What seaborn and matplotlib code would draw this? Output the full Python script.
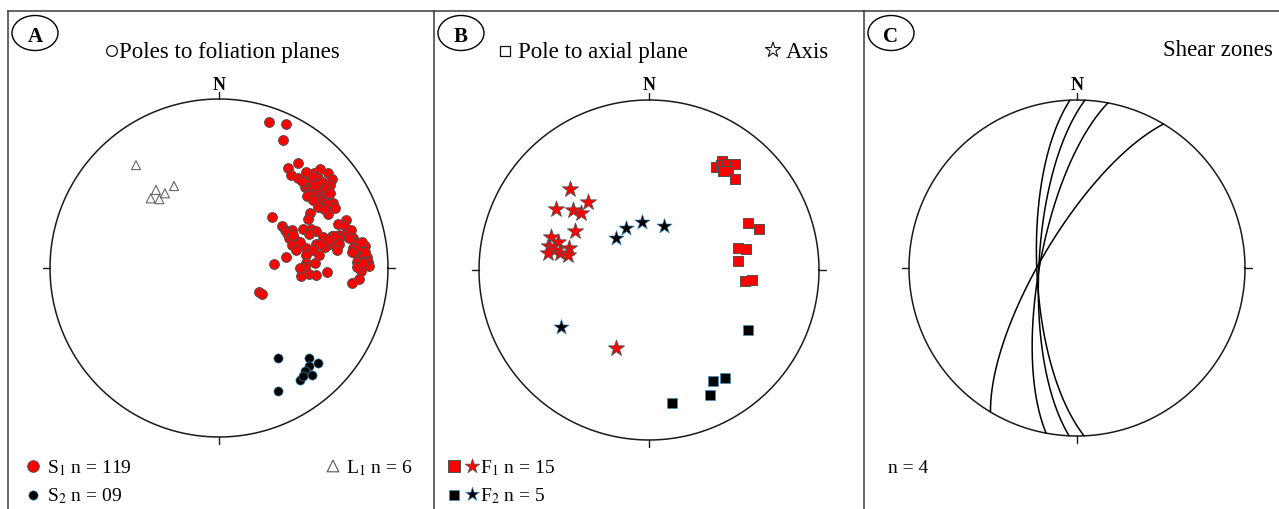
import numpy as np
import matplotlib
matplotlib.use("Agg")
import matplotlib.pyplot as plt
from matplotlib.patches import Ellipse
import seaborn as sns

sns.set_theme(style="white")
plt.rcParams["font.family"] = ["Liberation Serif", "DejaVu Serif"]
plt.rcParams["mathtext.fontset"] = "stix"
plt.rcParams["text.color"] = "black"

# ---------------- Panel A: poles on the equal-area net (east, north; unit radius)
s1_east = [0.298, 0.396, 0.380, 0.466, 0.410, 0.424, 0.466, 0.562, 0.598, 0.645,
           0.670, 0.657, 0.543, 0.549, 0.588, 0.534, 0.509, 0.533, 0.558, 0.593,
           0.617, 0.578, 0.549, 0.608, 0.637, 0.647, 0.598, 0.578, 0.657, 0.673,
           0.637, 0.686, 0.647, 0.538, 0.525, 0.315, 0.371, 0.391, 0.430, 0.401,
           0.416, 0.463, 0.434, 0.495, 0.544, 0.574, 0.534, 0.617, 0.667, 0.712,
           0.751, 0.702, 0.759, 0.779, 0.795, 0.805, 0.824, 0.866, 0.844, 0.710,
           0.710, 0.657, 0.627, 0.696, 0.572, 0.513, 0.556, 0.517, 0.795, 0.815,
           0.834, 0.854, 0.874, 0.883, 0.889, 0.834, 0.815, 0.395, 0.324, 0.515,
           0.566, 0.511, 0.534, 0.574, 0.485, 0.637, 0.838, 0.830, 0.787, 0.235,
           0.253, 0.568, 0.609, 0.521, 0.586, 0.621, 0.556, 0.633, 0.657, 0.550,
           0.491, 0.515, 0.740, 0.769, 0.817, 0.846, 0.864, 0.787, 0.817, 0.852,
           0.680, 0.645, 0.598, 0.479, 0.456, 0.479, 0.438, 0.592]
s1_north = [0.866, 0.852, 0.757, 0.623, 0.590, 0.550, 0.534, 0.564, 0.584, 0.564,
            0.528, 0.491, 0.531, 0.511, 0.531, 0.501, 0.478, 0.462, 0.466, 0.478,
            0.457, 0.442, 0.432, 0.422, 0.432, 0.402, 0.402, 0.392, 0.383, 0.383,
            0.379, 0.353, 0.318, 0.324, 0.288, 0.300, 0.249, 0.225, 0.225, 0.205,
            0.179, 0.162, 0.136, 0.229, 0.229, 0.221, 0.199, 0.182, 0.189, 0.197,
            0.284, 0.260, 0.211, 0.225, 0.178, 0.156, 0.126, 0.130, 0.107, 0.170,
            0.140, 0.142, 0.126, 0.107, 0.142, 0.120, 0.107, 0.077, 0.117, 0.077,
            0.063, 0.071, 0.067, 0.037, 0.014, 0.028, 0.037, 0.063, 0.024, 0.028,
            0.031, 0.004, -0.037, -0.041, -0.047, -0.025, -0.018, -0.065, -0.091, -0.140,
            -0.154, 0.491, 0.509, 0.426, 0.361, 0.349, 0.402, 0.473, 0.444, 0.544,
            0.515, 0.568, 0.254, 0.178, 0.118, 0.154, 0.095, 0.095, 0.006, 0.030,
            0.189, 0.166, 0.142, 0.154, 0.107, 0.000, 0.195, 0.077]
s2_east = [0.347, 0.533, 0.588, 0.534, 0.509, 0.549, 0.479, 0.347, 0.497]
s2_north = [-0.531, -0.531, -0.560, -0.578, -0.608, -0.633, -0.663, -0.726, -0.639]
l1_east = [-0.491, -0.373, -0.320, -0.266, -0.404, -0.353]
l1_north = [0.609, 0.462, 0.442, 0.485, 0.412, 0.407]

# ---------------- Panel B: fold axes (stars) and poles to axial planes (squares)
f1_axis_east = [-0.465, -0.357, -0.547, -0.449, -0.402, -0.435, -0.578, -0.534,
                -0.586, -0.559, -0.592, -0.524, -0.469, -0.475, -0.194]
f1_axis_north = [0.475, 0.402, 0.357, 0.353, 0.337, 0.231, 0.196, 0.166,
                 0.141, 0.118, 0.102, 0.098, 0.128, 0.088, -0.459]
f1_pole_east = [0.394, 0.429, 0.422, 0.461, 0.508, 0.434, 0.465, 0.508,
                0.584, 0.645, 0.525, 0.569, 0.524, 0.565, 0.606]
f1_pole_north = [0.608, 0.643, 0.618, 0.624, 0.624, 0.584, 0.584, 0.534,
                 0.278, 0.239, 0.131, 0.126, 0.053, -0.065, -0.059]
f2_axis_east = [-0.194, -0.137, -0.039, 0.088, -0.518]
f2_axis_north = [0.186, 0.245, 0.281, 0.259, -0.335]
f2_pole_east = [0.584, 0.447, 0.375, 0.359, 0.134]
f2_pole_north = [-0.353, -0.634, -0.653, -0.735, -0.784]

# ---------------- Panel C: shear zone planes (strike, right-hand rule / dip)
shear_strike = [211.0, 190.6, 182.7, 177.6]
shear_dip = [73.0, 72.0, 71.5, 70.5]

# ---------------- Texts
panel_letters = ["A", "B", "C"]
title_a = "Poles to foliation planes"
title_b1 = "Pole to axial plane"
title_b2 = "Axis"
title_c = "Shear zones"
label_s1 = "S$_1$ n = 119"
label_s2 = "S$_2$ n = 09"
label_l1 = "L$_1$ n = 6"
label_f1 = "F$_1$ n = 15"
label_f2 = "F$_2$ n = 5"
label_c = "n = 4"

RED = "#ff0000"
RED_EDGE = "#505050"
BLACK_EDGE = "#3a8fc4"

W, H = 1279, 509
fig = plt.figure(figsize=(W / 100, H / 100), dpi=100)

# net geometry of each panel, in figure pixels
geom = [
    dict(cx=219, cy=268, R=169, x0=8, x1=434),
    dict(cx=649, cy=270, R=170, x0=434, x1=864),
    dict(cx=1077, cy=268, R=168, x0=864, x1=1279),
]
TOP = 11

axes = []
for g in geom:
    ax = fig.add_axes([g["x0"] / W, 0, (g["x1"] - g["x0"]) / W, 1 - TOP / H])
    ax.set_xlim((g["x0"] - g["cx"]) / g["R"], (g["x1"] - g["cx"]) / g["R"])
    ax.set_ylim((g["cy"] - H) / g["R"], (g["cy"] - TOP) / g["R"])
    ax.set_xticks([])
    ax.set_yticks([])
    for side in ("right", "bottom"):
        ax.spines[side].set_visible(False)
    for side in ("left", "top"):
        ax.spines[side].set_visible(True)
        ax.spines[side].set_color("#3a3a3a")
        ax.spines[side].set_linewidth(1.1)
    ax.set_facecolor("white")
    axes.append(ax)


def to_data(g, px, py):
    return (px - g["cx"]) / g["R"], (g["cy"] - py) / g["R"]


def draw_net(ax, g):
    t = np.linspace(0, 2 * np.pi, 721)
    ax.plot(np.cos(t), np.sin(t), color="#1a1a1a", lw=1.1, zorder=2)
    tick = 0.042
    for ang in (0, 90, 180, 270):
        a = np.radians(ang)
        ax.plot([np.sin(a), (1 + tick) * np.sin(a)], [np.cos(a), (1 + tick) * np.cos(a)],
                color="#1a1a1a", lw=1.0, zorder=2)
    x, y = to_data(g, g["cx"], 86)
    ax.text(x, y, "N", ha="center", va="center", fontsize=13, fontweight="bold")


def panel_badge(ax, g, letter, px):
    x, y = to_data(g, px, 33)
    ax.add_patch(Ellipse((x, y), 46 / g["R"], 35 / g["R"], fill=False,
                         edgecolor="black", lw=1.0, clip_on=False))
    x, y = to_data(g, px, 37)
    ax.text(x, y, letter, ha="center", va="center", fontsize=15, fontweight="bold")


def key(ax, g, px, py, marker, s, face, edge, lw=0.7):
    x, y = to_data(g, px, py)
    sns.scatterplot(x=[x], y=[y], ax=ax, marker=marker, s=s, color=face,
                    edgecolor=edge, linewidth=lw, legend=False, clip_on=False, zorder=5)


def great_circle(strike, dip, n=241):
    s = np.radians(strike)
    d = np.radians(dip)
    dd = s + np.pi / 2
    a = np.radians(np.linspace(0, 180, n))
    sv = np.array([np.sin(s), np.cos(s), 0.0])
    dv = np.array([np.sin(dd) * np.cos(d), np.cos(dd) * np.cos(d), np.sin(d)])
    v = np.outer(np.cos(a), sv) + np.outer(np.sin(a), dv)
    plunge = np.arcsin(np.clip(v[:, 2], -1, 1))
    trend = np.arctan2(v[:, 0], v[:, 1])
    r = np.sqrt(2) * np.sin((np.pi / 2 - plunge) / 2)
    return r * np.sin(trend), r * np.cos(trend)


TITLE_FS = 16.5
LEG_FS = 14

# ---------------- Panel A
ax, g = axes[0], geom[0]
draw_net(ax, g)
panel_badge(ax, g, panel_letters[0], 35)
key(ax, g, 112, 51, "o", 60, "none", "#111111", 0.9)
x, y = to_data(g, 119, 58)
ax.text(x, y, title_a, ha="left", va="baseline", fontsize=TITLE_FS)
sns.scatterplot(x=l1_east, y=l1_north, ax=ax, marker="^", s=42, color="none",
                edgecolor="#666666", linewidth=0.8, legend=False, zorder=3)
sns.scatterplot(x=s1_east, y=s1_north, ax=ax, marker="o", s=50, color=RED,
                edgecolor=RED_EDGE, linewidth=0.7, legend=False, zorder=3)
sns.scatterplot(x=s2_east, y=s2_north, ax=ax, marker="o", s=44, color="black",
                edgecolor=BLACK_EDGE, linewidth=0.45, legend=False, zorder=3)
key(ax, g, 33, 466, "o", 70, RED, RED_EDGE)
key(ax, g, 33, 495, "o", 45, "black", BLACK_EDGE, 0.45)
key(ax, g, 333, 466, "^", 70, "none", "#555555", 0.8)
x, y = to_data(g, 47, 473)
ax.text(x, y, label_s1, ha="left", va="baseline", fontsize=LEG_FS)
x, y = to_data(g, 47, 501)
ax.text(x, y, label_s2, ha="left", va="baseline", fontsize=LEG_FS)
x, y = to_data(g, 346, 473)
ax.text(x, y, label_l1, ha="left", va="baseline", fontsize=LEG_FS)

# ---------------- Panel B
ax, g = axes[1], geom[1]
draw_net(ax, g)
panel_badge(ax, g, panel_letters[1], 461)
key(ax, g, 505, 51, "s", 60, "none", "#111111", 0.9)
x, y = to_data(g, 518, 58)
ax.text(x, y, title_b1, ha="left", va="baseline", fontsize=TITLE_FS)
key(ax, g, 773, 50, "*", 130, "none", "#111111", 0.8)
x, y = to_data(g, 786, 58)
ax.text(x, y, title_b2, ha="left", va="baseline", fontsize=TITLE_FS)
sns.scatterplot(x=f1_pole_east, y=f1_pole_north, ax=ax, marker="s", s=48, color=RED,
                edgecolor=RED_EDGE, linewidth=0.7, legend=False, zorder=3)
sns.scatterplot(x=f1_axis_east, y=f1_axis_north, ax=ax, marker="*", s=150, color=RED,
                edgecolor=RED_EDGE, linewidth=0.6, legend=False, zorder=3)
sns.scatterplot(x=f2_pole_east, y=f2_pole_north, ax=ax, marker="s", s=44, color="black",
                edgecolor=BLACK_EDGE, linewidth=0.45, legend=False, zorder=3)
sns.scatterplot(x=f2_axis_east, y=f2_axis_north, ax=ax, marker="*", s=135, color="black",
                edgecolor=BLACK_EDGE, linewidth=0.45, legend=False, zorder=3)
key(ax, g, 454, 466, "s", 75, RED, RED_EDGE)
key(ax, g, 472, 466, "*", 120, RED, RED_EDGE, 0.5)
key(ax, g, 454, 495, "s", 55, "black", BLACK_EDGE, 0.45)
key(ax, g, 472, 494, "*", 110, "black", BLACK_EDGE, 0.45)
x, y = to_data(g, 480, 473)
ax.text(x, y, label_f1, ha="left", va="baseline", fontsize=LEG_FS)
x, y = to_data(g, 480, 501)
ax.text(x, y, label_f2, ha="left", va="baseline", fontsize=LEG_FS)

# ---------------- Panel C
ax, g = axes[2], geom[2]
draw_net(ax, g)
panel_badge(ax, g, panel_letters[2], 891)
x, y = to_data(g, 1273, 56)
ax.text(x, y, title_c, ha="right", va="baseline", fontsize=TITLE_FS)
for st, dp in zip(shear_strike, shear_dip):
    gx, gy = great_circle(st, dp)
    sns.lineplot(x=gx, y=gy, ax=ax, sort=False, estimator=None, color="black",
                 lw=1.1, legend=False, zorder=3)
x, y = to_data(g, 888, 473)
ax.text(x, y, label_c, ha="left", va="baseline", fontsize=LEG_FS)

fig.savefig("out.png", dpi=100, facecolor="white")
